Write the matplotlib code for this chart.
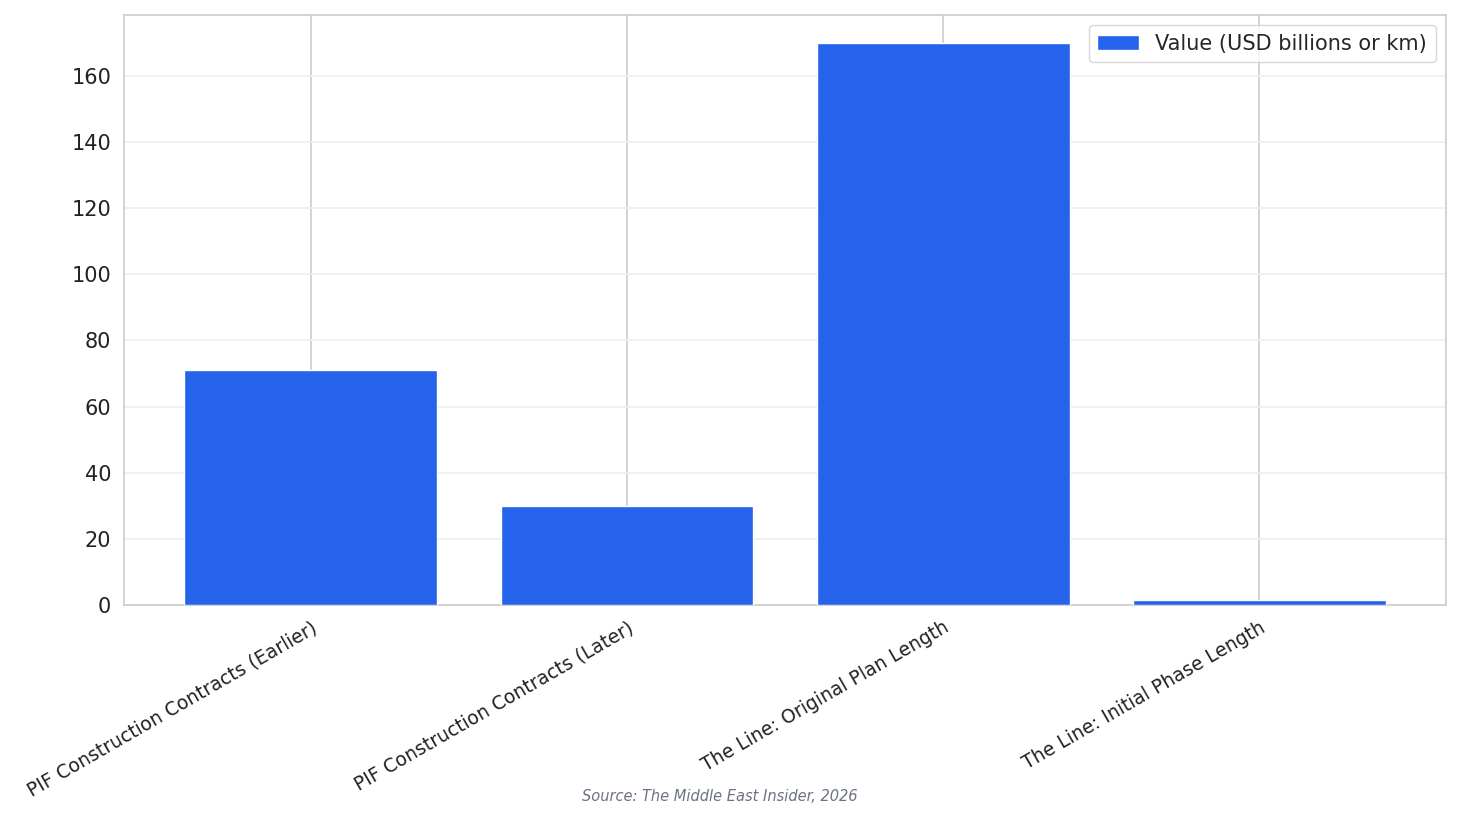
import matplotlib
matplotlib.use("Agg")
import matplotlib.pyplot as plt
import seaborn as sns

sns.set_theme(style="whitegrid")
plt.rcParams["font.family"] = ["DejaVu Sans"]

categories = [
    "PIF Construction Contracts (Earlier)",
    "PIF Construction Contracts (Later)",
    "The Line: Original Plan Length",
    "The Line: Initial Phase Length",
]
values = [71, 30, 170, 1.5]

fig = plt.figure(figsize=(14.62, 8.24), dpi=100, facecolor="white")
ax = fig.add_axes([0.085, 0.266, 0.904, 0.716])

ax.bar(categories, values, width=0.8, color="#2563EB", label="Value (USD billions or km)", zorder=3)
ax.set_ylim(0, 178.5)
ax.set_yticks(range(0, 161, 20))
ax.grid(axis="x", color="#cccccc", lw=1.2)
ax.grid(axis="y", color="#eeeeee", lw=1.2)
for sp in ax.spines.values():
    sp.set_color("#cccccc"); sp.set_linewidth(1.2)
ax.tick_params(axis="y", labelsize=15, colors="#222222")
ax.tick_params(axis="x", labelsize=13.5, colors="#222222")
plt.setp(ax.get_xticklabels(), rotation=30, ha="right", rotation_mode="anchor")
ax.legend(loc="upper right", fontsize=15, frameon=True, edgecolor="#cccccc")

fig.text(0.492, 0.028, "Source: The Middle East Insider, 2026", ha="center",
         fontsize=10.5, style="italic", color="#6b7280")

fig.savefig("out.png", dpi=100, facecolor="white")
